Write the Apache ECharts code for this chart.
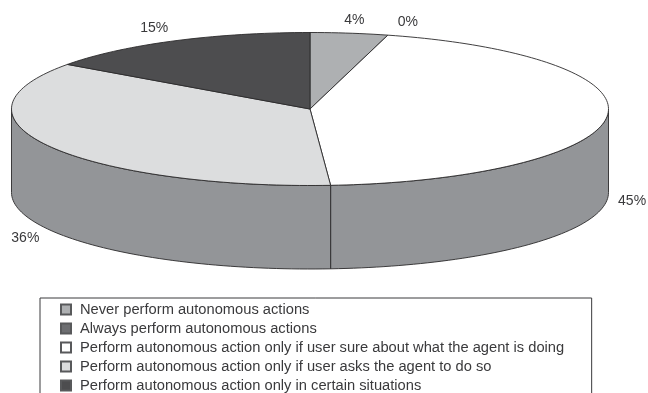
<!DOCTYPE html>
<html><head><meta charset="utf-8">
<style>html,body{margin:0;padding:0;background:#fff;overflow:hidden}#c{width:648px;height:393px}</style>
<script src="https://cdn.jsdelivr.net/npm/echarts@6/dist/echarts.min.js"></script>
</head><body><div id="c"></div>
<script>
const categories = [
  'Never perform autonomous actions',
  'Always perform autonomous actions',
  'Perform autonomous action only if user sure about what the agent is doing',
  'Perform autonomous action only if user asks the agent to do so',
  'Perform autonomous action only in certain situations'
];
const sharePercent = [4.2, 0, 44.7, 36, 15.1];
const sliceColors = ['#aeb0b2', '#6d6e71', '#ffffff', '#dcddde', '#4d4d4f'];

const sideColor = '#939598', edge = '#2b2a2b', textColor = '#3a3a3c';
const depth = 83.5 / 76.5;
const labelNudge = [[5, -13], [20, -13], [25, 85], [-24, 92], [-19.5, -13]];
const rad = d => d * Math.PI / 180;
const pt = d => [Math.sin(rad(d)), Math.cos(rad(d))];

function arc(a, b, dy) {
  const n = Math.max(2, Math.ceil((b - a) / 1.5)), out = [];
  for (let i = 0; i <= n; i++) {
    const p = pt(a + (b - a) * i / n);
    out.push([p[0], p[1] + dy]);
  }
  return out;
}

let running = 0;
const spans = sharePercent.map(v => { const s = running; running += v * 3.6; return [s, running]; });

function renderItem(params, api) {
  const a = api.value(0), b = api.value(1), idx = params.seriesIndex, kids = [];
  const stroke = { stroke: edge, lineWidth: 0.9, lineJoin: 'round' };
  const sa = Math.max(a, 90), sb = Math.min(b, 270);
  if (sb > sa) {
    const side = arc(sa, sb, 0).concat(arc(sa, sb, -depth).reverse()).map(p => api.coord(p));
    kids.push({ type: 'polygon', shape: { points: side }, style: Object.assign({ fill: sideColor }, stroke) });
  }
  if (b > a) {
    const top = [[0, 0]].concat(arc(a, b, 0)).map(p => api.coord(p));
    kids.push({ type: 'polygon', shape: { points: top }, style: Object.assign({ fill: sliceColors[idx] }, stroke) });
  }
  const anchor = api.coord(pt((a + b) / 2));
  kids.push({
    type: 'text', x: anchor[0] + labelNudge[idx][0], y: anchor[1] + labelNudge[idx][1],
    style: { text: Math.round(sharePercent[idx]) + '%', fill: textColor, font: '14px "Liberation Sans", Arial, sans-serif', align: 'center', verticalAlign: 'middle' }
  });
  return { type: 'group', children: kids };
}

const chart = echarts.init(document.getElementById('c'), null, { renderer: 'canvas' });
chart.setOption({
  animation: false,
  backgroundColor: '#fff',
  grid: { left: 11.5, width: 597, top: 32.5, height: 153 },
  xAxis: { type: 'value', min: -1, max: 1, show: false },
  yAxis: { type: 'value', min: -1, max: 1, show: false },
  legend: {
    orient: 'vertical', left: 40, top: 298, height: 300, icon: 'rect',
    itemWidth: 10, itemHeight: 10, itemGap: 4,
    padding: [4, 27.5, 40, 20],
    borderColor: '#3a3a3c', borderWidth: 1, backgroundColor: '#fff',
    selectedMode: false,
    textStyle: { color: textColor, fontFamily: '"Liberation Sans", Arial, sans-serif', fontSize: 14.7, padding: [0, 0, 0, 4], lineHeight: 14 },
    data: categories
  },
  series: categories.map((name, i) => ({
    type: 'custom', name, coordinateSystem: 'cartesian2d',
    itemStyle: { color: sliceColors[i], borderColor: '#58595b', borderWidth: 0.8 },
    renderItem, data: [spans[i]], encode: { x: 0, y: 1 }, silent: true, clip: false
  }))
});
</script></body></html>
